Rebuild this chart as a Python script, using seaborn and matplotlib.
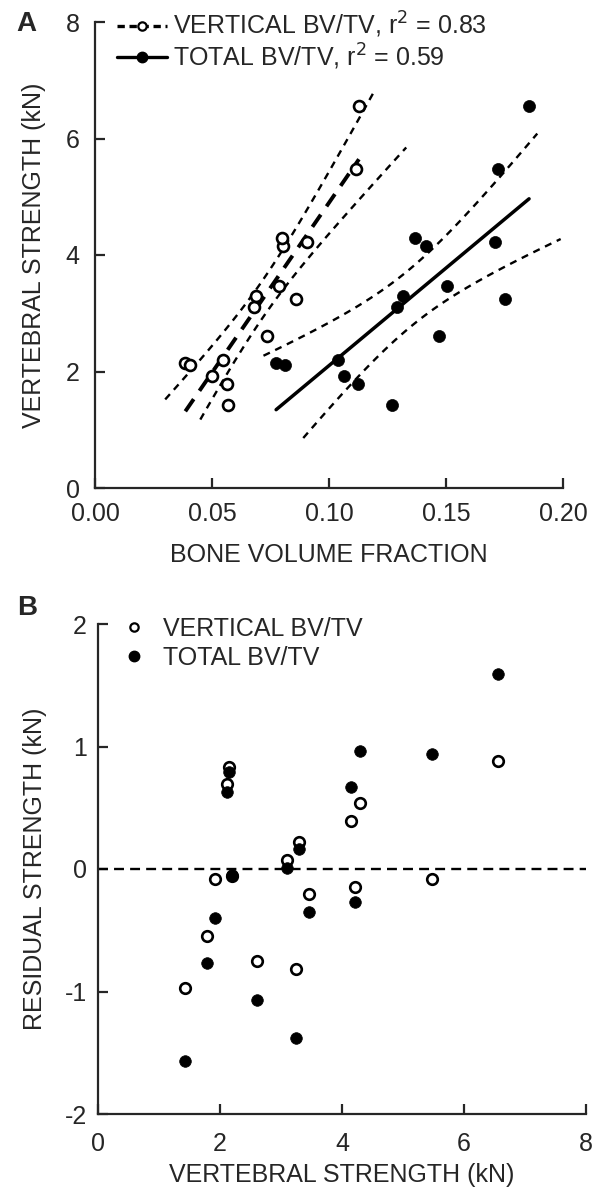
import numpy as np
import pandas as pd
import matplotlib
matplotlib.use("Agg")
import matplotlib.pyplot as plt
import seaborn as sns
from matplotlib.lines import Line2D

# ===== DATA =====
STRENGTH = [1.43, 1.78, 1.92, 2.14, 2.11, 2.19, 2.61, 3.10, 3.25, 3.30, 3.46, 4.15, 4.22, 4.29, 5.47, 6.55]
VERT_BVTV = [0.0570, 0.0562, 0.0502, 0.0386, 0.0404, 0.0545, 0.0736, 0.0681, 0.0860, 0.0689,
             0.0787, 0.0804, 0.0906, 0.0800, 0.1115, 0.1128]
TOTAL_BVTV = [0.1268, 0.1123, 0.1064, 0.0774, 0.0813, 0.1038, 0.1468, 0.1289, 0.1753, 0.1315,
              0.1506, 0.1413, 0.1711, 0.1366, 0.1723, 0.1855]
RES_VERT = [-0.97, -0.55, -0.08, 0.83, 0.69, -0.06, -0.75, 0.07, -0.82, 0.22,
            -0.20, 0.39, -0.15, 0.54, -0.08, 0.88]
RES_TOTAL = [-1.57, -0.77, -0.40, 0.79, 0.63, -0.05, -1.07, 0.01, -1.38, 0.16,
             -0.35, 0.67, -0.27, 0.96, 0.94, 1.59]

R2_VERT = 0.83
R2_TOTAL = 0.59
T_95 = 2.145  # t(0.975, df=14)

# x extents of the confidence band curves as drawn in the figure
VERT_UPPER_RANGE = (0.030, 0.119)
VERT_LOWER_RANGE = (0.045, 0.133)
TOTAL_UPPER_RANGE = (0.072, 0.189)
TOTAL_LOWER_RANGE = (0.089, 0.199)

A_XTICKS = [0.00, 0.05, 0.10, 0.15, 0.20]
A_YTICKS = [0, 2, 4, 6, 8]
B_XTICKS = [0, 2, 4, 6, 8]
B_YTICKS = [-2, -1, 0, 1, 2]
# ======================================

FS = 18
sns.set_style("ticks")
plt.rcParams["font.family"] = ["Liberation Sans", "DejaVu Sans"]
plt.rcParams["axes.linewidth"] = 1.6
plt.rcParams["axes.unicode_minus"] = False


def fit(x, y):
    x = np.asarray(x)
    y = np.asarray(y)
    slope, icpt = np.polyfit(x, y, 1)
    n = len(x)
    s = np.sqrt(((y - (slope * x + icpt)) ** 2).sum() / (n - 2))
    sxx = ((x - x.mean()) ** 2).sum()

    def band(lo, hi, sign):
        xs = np.linspace(lo, hi, 100)
        half = T_95 * s * np.sqrt(1 / n + (xs - x.mean()) ** 2 / sxx)
        return xs, slope * xs + icpt + sign * half

    xl = np.array([x.min(), x.max()])
    return xl, slope * xl + icpt, band


W, H = 605, 1193
fig = plt.figure(figsize=(W / 100, H / 100), dpi=100)
axA = fig.add_axes([95 / W, (H - 488) / H, (563 - 95) / W, (488 - 22) / H])
axB = fig.add_axes([98 / W, (H - 1114) / H, (586 - 98) / W, (1114 - 624) / H])

df = pd.DataFrame({"strength": STRENGTH, "vert": VERT_BVTV, "total": TOTAL_BVTV,
                   "res_v": RES_VERT, "res_t": RES_TOTAL})

# ---- Panel A ----
ci_style = dict(color="black", lw=1.7, ls=(0, (3.0, 2.5)))
for col, upr, lwr in [("vert", VERT_UPPER_RANGE, VERT_LOWER_RANGE),
                      ("total", TOTAL_UPPER_RANGE, TOTAL_LOWER_RANGE)]:
    xl, yl, band = fit(df[col], df["strength"])
    for rng, sign in [(upr, 1), (lwr, -1)]:
        bx, by = band(rng[0], rng[1], sign)
        sns.lineplot(x=bx, y=by, ax=axA, sort=False, **ci_style)
    if col == "vert":
        sns.lineplot(x=xl, y=yl, ax=axA, color="black", lw=2.8, ls=(0, (3.8, 2.6)))
    else:
        sns.lineplot(x=xl, y=yl, ax=axA, color="black", lw=2.5)

sns.scatterplot(data=df, x="vert", y="strength", ax=axA, s=62, marker="o",
                facecolor="white", edgecolor="black", linewidth=1.9, zorder=5)
sns.scatterplot(data=df, x="total", y="strength", ax=axA, s=75, marker="o",
                color="black", edgecolor="black", linewidth=0.5, zorder=5)

axA.set_xlim(0, 0.20)
axA.set_ylim(0, 8)
axA.set_xticks(A_XTICKS)
axA.set_xticklabels([f"{t:.2f}" for t in A_XTICKS])
axA.set_yticks(A_YTICKS)
axA.set_xlabel("BONE VOLUME FRACTION", fontsize=FS, labelpad=12)
axA.set_ylabel("VERTEBRAL STRENGTH (kN)", fontsize=FS, labelpad=14)
axA.tick_params(axis="x", pad=10)
axA.tick_params(axis="y", pad=11)

handles = [
    Line2D([], [], color="black", lw=2.4, ls=(0, (2.2, 1.4)), marker="o", ms=6,
           mfc="white", mec="black", mew=1.6),
    Line2D([], [], color="black", lw=2.4, marker="o", ms=7.5, mfc="black", mec="black"),
]
axA.legend(handles, [f"VERTICAL BV/TV, r$^2$ = {R2_VERT:.2f}", f"TOTAL BV/TV, r$^2$ = {R2_TOTAL:.2f}"],
           loc="upper left", bbox_to_anchor=(0.015, 1.058), frameon=False, fontsize=FS,
           handlelength=2.0, handletextpad=0.25, labelspacing=0.06, borderaxespad=0.2)

# ---- Panel B ----
axB.axhline(0, color="black", lw=1.7, ls=(0, (4.2, 2.6)), zorder=1)
sns.scatterplot(data=df, x="strength", y="res_v", ax=axB, s=58, marker="o",
                facecolor="white", edgecolor="black", linewidth=1.9, zorder=4)
sns.scatterplot(data=df, x="strength", y="res_t", ax=axB, s=70, marker="o",
                color="black", edgecolor="black", linewidth=0.5, zorder=5)

axB.set_xlim(0, 8)
axB.set_ylim(-2, 2)
axB.set_xticks(B_XTICKS)
axB.set_yticks(B_YTICKS)
axB.set_xlabel("VERTEBRAL STRENGTH (kN)", fontsize=FS, labelpad=5)
axB.set_ylabel("RESIDUAL STRENGTH (kN)", fontsize=FS, labelpad=13)
axB.tick_params(axis="x", pad=13)
axB.tick_params(axis="y", pad=8)

handlesB = [
    Line2D([], [], ls="none", marker="o", ms=6, mfc="white", mec="black", mew=1.6),
    Line2D([], [], ls="none", marker="o", ms=7.5, mfc="black", mec="black"),
]
axB.legend(handlesB, ["VERTICAL BV/TV", "TOTAL BV/TV"], loc="upper left",
           bbox_to_anchor=(0.012, 1.045), frameon=False, fontsize=FS,
           handlelength=1.2, handletextpad=0.55, labelspacing=0.2, borderaxespad=0.2)

for ax in (axA, axB):
    sns.despine(ax=ax)
    ax.tick_params(direction="in", length=7, width=1.6, labelsize=FS)

fig.text(16 / W, 1 - 24 / H, "A", fontsize=20, fontweight="bold", va="center", ha="left")
fig.text(17 / W, 1 - 608 / H, "B", fontsize=20, fontweight="bold", va="center", ha="left")

fig.savefig("out.png", dpi=100)
